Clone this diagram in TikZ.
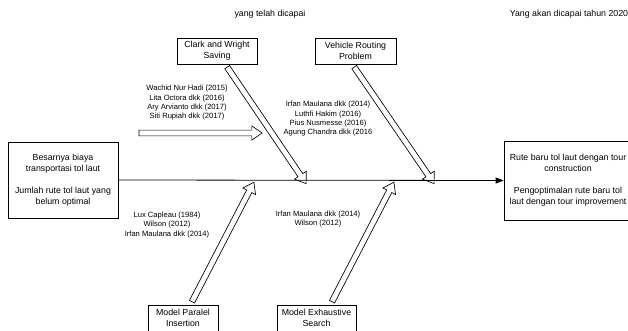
\documentclass[tikz,border=0pt]{standalone}
\usepackage{fontspec}
\setmainfont{Liberation Sans}
\usepackage{tikz}
\usetikzlibrary{positioning, arrows.meta, shapes.arrows, calc}

\begin{document}
\begin{tikzpicture}[x=0.75pt,y=0.75pt,yscale=-1,xscale=1,
                    every node/.style={font=\fontsize{6.6}{8.25}\selectfont, align=center, inner sep=0pt},
                    box/.style={draw, line width=0.6pt, inner sep=2pt},
                    refs/.style={font=\fontsize{5.7}{7}\selectfont},
                    fatarrow/.style={draw, line width=0.5pt, single arrow, inner sep=1.9pt,
                                     single arrow head extend=3.2pt, single arrow tip angle=70}]
\useasboundingbox (0,0) rectangle (628,331);

% Text Node
\node (done) at (270,14) {yang telah dicapai};
% Text Node
\node (goal) at (569,14) {Yang akan dicapai tahun 2020};

%Shape: Rectangle
\node [box, minimum width=82.5pt, minimum height=57pt] (cause) at (63,180) {Besarnya biaya\\transportasi tol laut\\[8.25pt]Jumlah rute tol laut yang\\belum optimal};
%Shape: Rectangle
\node [box, minimum width=96pt, minimum height=59.25pt] (effect) at (568,180.5) {Rute baru tol laut dengan tour\\construction\\[8.25pt]Pengoptimalan rute baru tol\\laut dengan tour improvement};
%Shape: Rectangle
\node [box, minimum width=60pt, minimum height=19.5pt] (cws) at (217,51) {Clark and Wright\\Saving};
%Shape: Rectangle
\node [box, minimum width=60.75pt, minimum height=19.5pt] (vrp) at (355.5,51) {Vehicle Routing\\Problem};
%Shape: Rectangle
\node [box, minimum width=52.5pt, minimum height=19.5pt] (mpi) at (183,318) {Model Paralel\\Insertion};
%Shape: Rectangle
\node [box, minimum width=59.25pt, minimum height=19.5pt] (mes) at (316.5,318) {Model Exhaustive\\Search};

% Text Node
\node [refs] (cwsref) at (187,103) {Wachid Nur Hadi (2015)\\Lita Octora dkk (2016)\\Ary Arvianto dkk (2017)\\Siti Rupiah dkk (2017)};
% Text Node
\node [refs] (vrpref) at (328,119) {Irfan Maulana dkk (2014)\\Luthfi Hakim (2016)\\Pius Nusmesse (2016)\\Agung Chandra dkk (2016};
% Text Node
\node [refs] (mpiref) at (167,225) {Lux Capleau (1984)\\Wilson (2012)\\Irfan Maulana dkk (2014)};
% Text Node
\node [refs] (mesref) at (318,219) {Irfan Maulana dkk (2014)\\Wilson (2012)};

%Straight Lines
\draw [line width=0.6pt, -{Triangle[length=6pt,width=4.5pt]}] (cause.east) -- (effect.west);

% ends of the fat arrows
\coordinate (s1) at ($(cws.south)+(9,1)$);
\coordinate (t1) at (305,182);
\coordinate (s2) at ($(vrp.south)+(-2.5,1)$);
\coordinate (t2) at (433,182);
\coordinate (s3) at ($(mpi.north)+(8,-1)$);
\coordinate (t3) at (253,184);
\coordinate (s4) at ($(mes.north)+(14.5,-1)$);
\coordinate (t4) at (393,184);
\coordinate (s5) at (137,133);
\coordinate (t5) at (260,133);

%Right Arrow
\path let \p1=($(t1)-(s1)$), \n1={veclen(\x1,\y1)}, \n2={-atan2(\y1,\x1)} in node [fatarrow, minimum height=\n1, rotate=\n2] (a1) at ($(s1)!0.5!(t1)$) {};
\path let \p1=($(t2)-(s2)$), \n1={veclen(\x1,\y1)}, \n2={-atan2(\y1,\x1)} in node [fatarrow, minimum height=\n1, rotate=\n2] (a2) at ($(s2)!0.5!(t2)$) {};
\path let \p1=($(t3)-(s3)$), \n1={veclen(\x1,\y1)}, \n2={-atan2(\y1,\x1)} in node [fatarrow, minimum height=\n1, rotate=\n2] (a3) at ($(s3)!0.5!(t3)$) {};
\path let \p1=($(t4)-(s4)$), \n1={veclen(\x1,\y1)}, \n2={-atan2(\y1,\x1)} in node [fatarrow, minimum height=\n1, rotate=\n2] (a4) at ($(s4)!0.5!(t4)$) {};
\path let \p1=($(t5)-(s5)$), \n1={veclen(\x1,\y1)}, \n2={-atan2(\y1,\x1)} in node [fatarrow, minimum height=\n1, rotate=\n2] (a5) at ($(s5)!0.5!(t5)$) {};

\end{tikzpicture}
\end{document}
